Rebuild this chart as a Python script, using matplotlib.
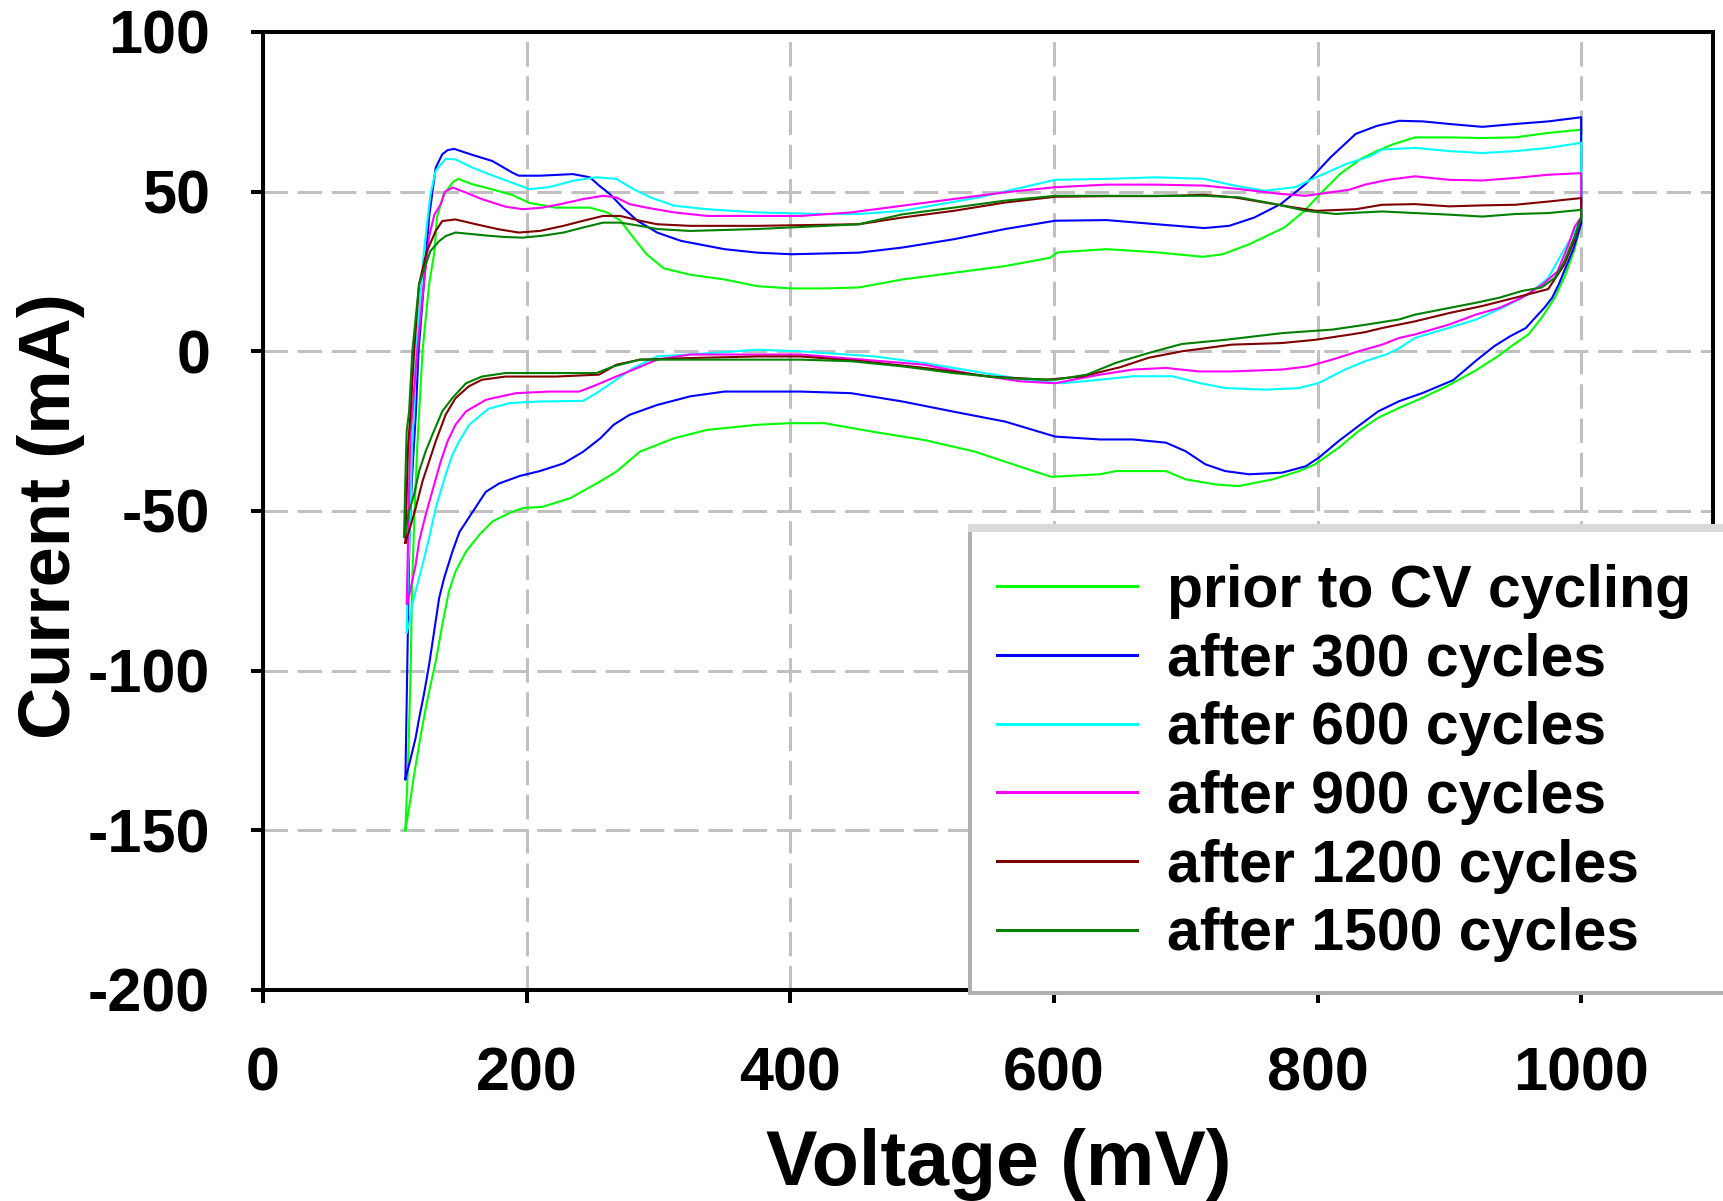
#!/usr/bin/env python3
"""Cyclic voltammograms of the electrode before and after repeated CV cycling."""

import matplotlib
matplotlib.use("Agg")
import matplotlib.pyplot as plt
from matplotlib.patches import Rectangle

# Each loop: rise at ~110 mV, anodic branch up to 1000 mV, cathodic branch back.
prior_v = [108, 110, 112, 113, 115, 117, 118.5, 121, 126, 130, 132, 137, 144, 148,
           159, 174, 189, 202, 222, 248, 261, 271, 281, 291, 304, 324, 350, 375, 401,
           426, 452, 485, 524, 563, 597, 603, 640, 678, 713, 728, 748, 775, 790, 802,
           817, 833, 845, 857, 874, 900, 925, 950, 975, 1000,
           1000, 995, 988, 980, 970, 960, 947, 937, 920, 900, 880, 862, 846, 831, 816,
           798, 786, 766, 740, 723, 700, 685, 647, 635, 621, 598, 575, 540, 502, 463,
           426, 400, 375, 337, 312, 286, 268, 253, 233, 212, 197, 187, 174, 164, 154,
           146, 141, 136, 131, 126, 122, 118.4, 114.6, 112, 109.5, 108]
prior_i = [-150, -130, -100, -75, -50, -30, -19, 0, 21, 31, 42, 49, 53, 54,
           52.3, 50.7, 49, 46.5, 45, 45, 43.5, 41, 35.6, 30.4, 26, 24, 22.5, 20.4, 19.7,
           19.7, 20, 22.5, 24.6, 26.7, 29.3, 31, 32, 31, 29.6, 30.4, 33.5, 38.8, 44, 49.3,
           55.5, 60.3, 62.7, 64.8, 67, 67, 66.8, 67, 68.4, 69.4,
           40, 32, 24, 16.8, 10.5, 5.3, 1.6, -1.5, -6, -10.5, -14.5, -17.7, -20.8, -25, -30.2,
           -35.4, -37.5, -40.1, -42.2, -41.7, -40.1, -37.5, -37.5, -38.5, -38.8, -39.3, -36.2, -31.4, -27.8, -25.2,
           -22.5, -22.5, -23, -24.6, -27.2, -31.4, -37.7, -41.4, -46, -48.7, -49.1, -50.6, -53.3, -57.5, -62.7,
           -69, -75.2, -85.7, -97.2, -106.6, -114.9, -123.3, -132.7, -140, -146.3, -150]

c300_v = [108, 109, 110, 111, 113, 116, 118, 122, 126, 131, 136, 140, 145,
          159, 174, 189, 194, 210, 235, 248, 255, 263, 273, 284, 299, 317, 350, 375, 401,
          452, 485, 524, 563, 601, 640, 678, 714, 733, 752, 772, 791, 810, 829, 845, 862,
          880, 900, 925, 950, 975, 1000,
          1000, 994, 988, 983, 978, 972, 965, 958, 946, 934, 920, 903, 880, 862, 846, 831,
          816, 801, 791, 773, 748, 730, 715, 700, 685, 660, 635, 601, 563, 524, 485, 446,
          408, 350, 324, 299, 278, 266, 256, 243, 228, 210, 195, 179, 169, 159, 149, 143.7,
          137.4, 133.6, 129.8, 126, 122, 118.4, 115.8, 112, 109.5, 108]
c300_i = [-134, -110, -85, -60, -40, -19, 0, 21, 42, 57.5, 61.7, 63, 63.4,
          61.5, 59.6, 56, 55, 55, 55.5, 54.5, 51.9, 49.3, 45, 40.9, 37.2, 34.6, 32, 30.9, 30.4,
          30.9, 32.5, 35.1, 38.3, 40.9, 41.1, 39.8, 38.6, 39.3, 41.9, 46.1, 52.4, 60.8, 68.1, 70.6, 72.2,
          72, 71.2, 70.3, 71.2, 72, 73.3,
          40, 32, 26, 21, 16.8, 13.6, 10.5, 7.3, 4.7, 1.6, -3, -9, -13, -15.6, -18.8, -23.4,
          -28.1, -33.3, -36, -38, -38.5, -37.5, -35.4, -31.3, -28.6, -27.6, -27.6, -26.7, -22, -18.9, -15.7, -13.1,
          -12.6, -12.6, -14.1, -16.8, -19.9, -23, -27.2, -31.4, -35.1, -37.5, -39, -41.4, -44, -50.3, -56.6, -62.7,
          -71, -77.3, -87.8, -98.2, -107.6, -115, -121, -127.5, -131.6, -134]

c600_v = [109, 110, 112, 113, 114.6, 116, 120, 122, 125, 127, 131, 138.6, 146,
          159, 172, 189, 202, 217, 235, 253, 268, 281, 294, 312, 337, 375, 426, 452, 485,
          543, 582, 601, 640, 678, 714, 737, 760, 783, 799, 822, 840, 849, 874, 900, 925,
          950, 975, 1000,
          1000, 993, 985, 975, 960, 940, 920, 900, 874, 862, 852, 836, 821, 801, 786, 761,
          730, 710, 690, 660, 635, 606, 578, 540, 502, 464, 408, 375, 324, 299, 281, 268,
          253, 243, 210, 187, 171, 156.4, 148.8, 143.7, 138.6, 131, 126, 121, 117, 113.3,
          110.7, 109]
c600_i = [-88, -70, -50, -30, -19, 0, 20, 31, 42, 49, 56.6, 60.3, 60.1,
          57.5, 55.4, 52.8, 50.8, 51.4, 53.4, 54.5, 54, 50.8, 48.2, 45.6, 44.5, 43.5, 43, 43, 44,
          48.2, 51.9, 53.7, 54, 54.5, 54, 51.9, 50.3, 51.4, 54.5, 58.7, 61.1, 63.2, 63.7, 62.7, 62.1,
          62.7, 63.7, 65.3,
          42, 36, 30.4, 23, 17.8, 13.6, 9.9, 7.4, 4.2, 1, -1, -3.1, -5.7, -9.9, -11.5, -12,
          -11.5, -9.9, -7.8, -7.8, -8.9, -10, -8.9, -6.3, -3.7, -1.6, 0, 0.5, -1, -1.6, -5.2, -8.9,
          -13.1, -15.5, -15.7, -16.2, -18, -23, -28.2, -32.4, -38.6, -49.1, -58.5, -66.9, -73.1, -79.4,
          -85.7, -88]

c900_v = [109, 110, 111, 112, 113.3, 117, 122, 126, 130, 135, 138, 144,
          154, 166.5, 184, 197, 212, 228, 243, 258, 268, 278, 291, 312, 337, 408, 446, 485,
          524, 563, 601, 640, 678, 714, 741, 772, 791, 810, 824, 836, 853, 874, 900, 925,
          950, 975, 1000,
          1000, 995, 990, 982, 971, 955, 938, 920, 900, 874, 862, 849, 831, 811, 793, 773,
          735, 710, 685, 660, 635, 621, 601, 575, 540, 502, 408, 324, 299, 284, 268, 253,
          240, 217, 192, 174, 169, 154, 146, 140, 134.8, 129.8, 123.4, 118.4, 115.8, 112,
          109.5]
c900_i = [-79, -60, -40, -25, -19, 0, 21, 36, 42.8, 46.2, 50, 51.3,
          49.7, 47.6, 45.3, 44.5, 45, 46.3, 47.7, 48.7, 48.2, 46.1, 45, 43.5, 42.4, 42.4, 43.5, 45.6,
          47.7, 49.8, 51.4, 52.2, 52.2, 51.9, 50.8, 49.3, 48.7, 49.8, 50.6, 52.2, 53.7, 54.8, 53.7, 53.5,
          54.3, 55.3, 55.8,
          42, 39, 33, 25, 21, 16.8, 13.6, 11.5, 8.4, 5.3, 4.2, 2.1, 0, -2.6, -4.7, -5.7,
          -6.3, -6.3, -5.2, -5.7, -7.3, -8.4, -10, -9.4, -7.3, -4.2, -1, -1, -2.6, -5.2, -7.9, -10.5,
          -12.6, -12.6, -13.1, -14.7, -15.2, -18.8, -23, -28.2, -34.5, -41.8, -51.2, -59.5, -66.9, -74.2,
          -79]

c1200_v = [108, 109, 110, 112, 114.6, 118.4, 124, 131, 136, 146,
           161.5, 179, 194, 210, 228, 243, 258, 271, 286, 299, 324, 375, 452, 485, 524,
           563, 601, 640, 678, 714, 737, 760, 783, 799, 829, 849, 874, 900, 925, 950, 975, 1000,
           1000, 994, 987, 975, 950, 925, 900, 874, 849, 836, 824, 798, 773, 735, 697, 672,
           650, 621, 594, 552, 502, 452, 408, 375, 324, 286, 268, 255, 222, 184, 166, 156,
           146, 138.6, 131, 126, 121, 115.8, 110.7, 108]
c1200_i = [-60, -45, -30, -19, 0, 21, 31, 37.7, 40.8, 41.3,
           39.8, 38.2, 37.2, 37.7, 39.3, 40.9, 42.4, 42.4, 40.9, 39.8, 39.3, 39.3, 39.8, 41.9, 44,
           46.6, 48.4, 48.6, 48.6, 49, 48.2, 46.6, 45, 44, 44.5, 45.9, 46.1, 45.4, 45.7, 45.9, 46.9, 48,
           42, 34, 27, 19.5, 16.8, 14.2, 12, 9.4, 7.3, 6, 5.2, 3.6, 2.6, 2.1, 0, -2,
           -5, -7.9, -8.9, -7.9, -5.2, -3, -1.6, -1.6, -2.1, -2.6, -4.2, -7.3, -7.9, -7.9, -8.9, -11,
           -14.7, -19.8, -28.2, -34.5, -40.7, -49.1, -56.4, -60]

c1500_v = [107, 108, 109, 110.8, 113.3, 118.4, 127, 133.6, 138.6, 146,
           159, 171, 184, 197, 212, 228, 243, 258, 271, 286, 299, 324, 375, 452, 485, 524,
           563, 601, 714, 741, 768, 791, 814, 824, 849, 874, 900, 925, 950, 975, 1000,
           1000, 995, 987, 980, 970, 955, 938, 920, 900, 874, 862, 836, 811, 773, 730, 697,
           672, 647, 625, 601, 563, 524, 485, 446, 408, 324, 286, 266, 253, 222, 184, 166,
           154, 143.7, 136, 128.5, 123.4, 118.4, 114.6, 110.7, 108.2, 107]
c1500_i = [-58, -40, -25, -19, 0, 21, 31.4, 34.5, 36.1, 37.2,
           36.7, 36.2, 35.8, 35.6, 36.2, 37.2, 38.8, 40.3, 40.3, 39.3, 38.3, 37.7, 38.3, 39.8, 42.9, 45,
           47.2, 48.7, 48.7, 48.2, 46.1, 44, 43, 43.3, 43.8, 43.3, 42.8, 42.2, 43, 43.3, 44.3,
           42, 36, 28, 23, 20, 18.9, 16.8, 15.2, 13.6, 11.5, 10, 8.3, 6.8, 5.7, 3.6, 2.3,
           -0.5, -3.6, -7.3, -8.9, -8.4, -6.8, -4.7, -3.1, -2.6, -2.6, -2.6, -4.7, -6.8, -6.8, -6.8, -7.9,
           -10, -14.6, -18.8, -26.1, -31.3, -37.6, -44.9, -50.1, -56.4, -58]

labels = ["prior to CV cycling", "after 300 cycles", "after 600 cycles",
          "after 900 cycles", "after 1200 cycles", "after 1500 cycles"]
x_ticks = [0, 200, 400, 600, 800, 1000]
y_ticks = [-200, -150, -100, -50, 0, 50, 100]

W, H = 1724, 1201


def plot(out):
    plt.rcParams["font.family"] = ["Liberation Sans", "DejaVu Sans"]
    plt.rcParams["font.weight"] = "bold"
    plt.rcParams["axes.unicode_minus"] = False

    fig = plt.figure(figsize=(W / 100, H / 100), dpi=100)
    left, right, top, bottom = 263, 1713, 32, 990
    ax = fig.add_axes([left / W, 1 - bottom / H, (right - left) / W, (bottom - top) / H])

    series = [
        (prior_v, prior_i, "#00ff00"),
        (c300_v, c300_i, "#0000ff"),
        (c600_v, c600_i, "#00ffff"),
        (c900_v, c900_i, "#ff00ff"),
        (c1200_v, c1200_i, "#800000"),
        (c1500_v, c1500_i, "#008000"),
    ]
    for (v, i, col), lab in zip(series, labels):
        ax.plot(v, i, color=col, linewidth=1.5, label=lab, zorder=3)

    ax.set_xlim(0, 1100)
    ax.set_ylim(-200, 100)
    ax.set_xticks(x_ticks)
    ax.set_yticks(y_ticks)
    ax.tick_params(axis="both", direction="out", length=9, width=2.9, labelsize=44)
    ax.tick_params(axis="x", pad=32)
    ax.tick_params(axis="y", pad=29)

    # dashed grey grid, skipping the lines that sit on the frame
    for x in x_ticks[1:]:
        ax.axvline(x, color="#c0c0c0", linewidth=2.2, linestyle=(0, (8, 3.2)), zorder=1)
    for y in y_ticks[1:-1]:
        ax.axhline(y, color="#c0c0c0", linewidth=2.2, linestyle=(0, (8, 3.2)), zorder=1)

    for side in ["left", "bottom", "top", "right"]:
        ax.spines[side].set_linewidth(2.9)

    fig.text(999 / W, 1 - 1185 / H, "Voltage (mV)", fontsize=55.5, ha="center", va="baseline")
    fig.text(17 / W, 1 - 516 / H, "Current (mA)", fontsize=52, rotation=90,
             ha="left", va="center")

    # legend box: grey frame with a light band on top, running off the figure edge
    box = Rectangle((970 / W, 1 - 993 / H), 800 / W, 467 / H, transform=fig.transFigure,
                    facecolor="white", edgecolor="#b0b0b0", linewidth=2.9,
                    clip_on=False, zorder=4)
    band = Rectangle((968 / W, 1 - 532 / H), 800 / W, 8 / H, transform=fig.transFigure,
                     facecolor="#d9d9d9", edgecolor="none", clip_on=False, zorder=4.1)
    ax.add_patch(box)
    ax.add_patch(band)

    leg = ax.legend(loc="upper left", bbox_to_anchor=(959 / W, 1 - 526 / H),
                    bbox_transform=fig.transFigure, fontsize=42.5, frameon=False,
                    handlelength=2.37, handletextpad=0.51, labelspacing=0.232,
                    borderpad=0.644, borderaxespad=0)
    leg.set_zorder(5)
    for line in leg.get_lines():
        line.set_linewidth(2.2)

    fig.savefig(out, dpi=100)


def main():
    plot("out.png")


if __name__ == "__main__":
    main()
